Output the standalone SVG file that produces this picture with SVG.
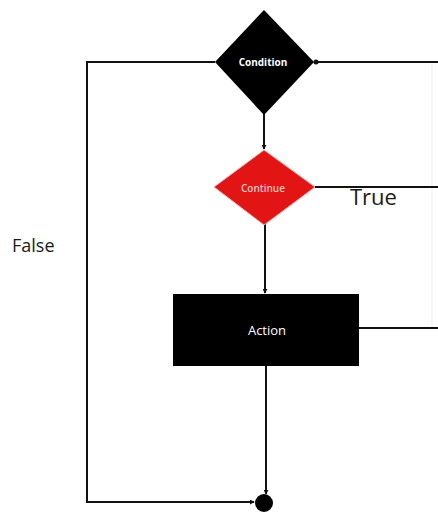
<svg xmlns="http://www.w3.org/2000/svg" width="438" height="512" viewBox="0 0 438 512">
<defs>
<style>
.ln{stroke:#111;stroke-width:2;fill:none}
.lbl{font-family:"Open Sans","Liberation Sans",sans-serif;fill:#1a1a1a}
.nt{font-family:"Open Sans","Liberation Sans",sans-serif;font-weight:bold;text-anchor:middle;dominant-baseline:central}
</style>
<marker id="ah" viewBox="0 0 6 6" refX="5" refY="3" markerWidth="5" markerHeight="5" markerUnits="userSpaceOnUse" orient="auto">
<path d="M0,0 L6,3 L0,6 z" fill="#111"/>
</marker>
</defs>
<rect width="438" height="512" fill="#fff"/>
<g id="connectors">
<line x1="432" y1="62" x2="432" y2="328" stroke="#f3f3f3" stroke-width="1.5"/>
<polyline class="ln" points="314,62 438,62"/>
<circle cx="316" cy="62" r="2.5" fill="#111"/>
<polyline class="ln" points="315,187 438,187"/>
<polyline class="ln" points="359,328 438,328"/>
<polyline class="ln" points="215,62 87,62 87,502 254,502" marker-end="url(#ah)"/>
<line class="ln" x1="264" y1="114" x2="264" y2="149" marker-end="url(#ah)"/>
<line class="ln" x1="265" y1="224" x2="265" y2="293" marker-end="url(#ah)"/>
<line class="ln" x1="266" y1="366" x2="266" y2="494" marker-end="url(#ah)"/>
</g>
<g id="condition">
<polygon points="264,10 314,62 264,115 215,62" fill="#000"/>
<text class="nt" x="263" y="62" font-size="10" fill="#fff">Condition</text>
</g>
<g id="continue">
<polygon points="264,150 315,187 264,225 214,187" fill="#e31414" stroke="#f7b0b0" stroke-width="1"/>
<text class="nt" x="263" y="188" font-size="10" fill="#f8c8c8" style="font-weight:600">Continue</text>
</g>
<g id="action">
<rect x="173" y="294" width="186" height="72" fill="#000"/>
<text class="nt" x="267" y="330" font-size="13" fill="#fff" style="font-weight:normal">Action</text>
</g>
<g id="end">
<circle cx="264" cy="503" r="9" fill="#000"/>
</g>
<text class="lbl" x="350" y="205" font-size="22">True</text>
<text class="lbl" x="12" y="252" font-size="18">False</text>
</svg>
